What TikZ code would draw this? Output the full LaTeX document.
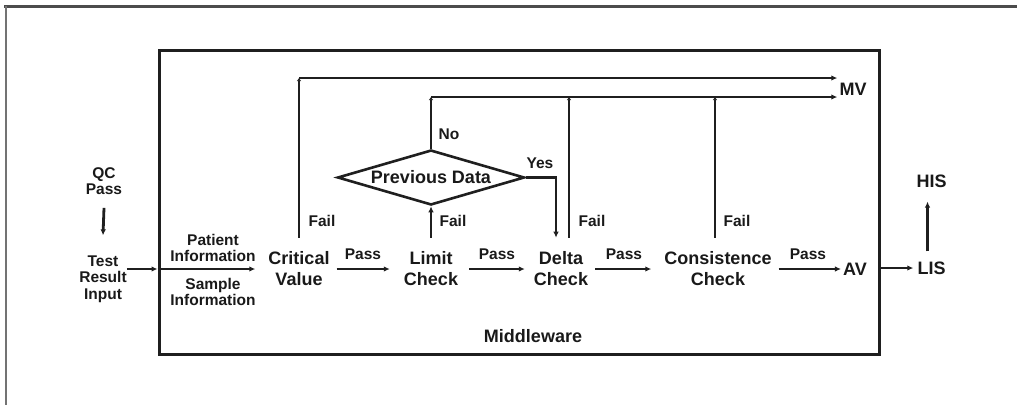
\documentclass[tikz,border=0pt]{standalone}
\usepackage{fontspec}
\setmainfont{Liberation Sans}
\usetikzlibrary{arrows.meta,shapes.geometric}
\tikzset{
  big/.style={font=\fontsize{18}{21}\selectfont\bfseries, align=center, inner xsep=7pt, inner ysep=0pt, text=black!90},
  small/.style={font=\fontsize{15.5}{16.5}\selectfont\bfseries, align=center, inner sep=0pt, text=black!90},
  ln/.style={line width=2.8pt, draw=black!88},
  arr/.style={ln, -{Latex[length=6pt,width=5.5pt]}},
  tip/.style={ln, -{Latex[length=3pt,width=4.5pt]}},
}
\begin{document}
\begin{tikzpicture}[x=1pt,y=-1pt]
\useasboundingbox (0,0) rectangle (1017,405);
% outer frame
\draw[line width=3pt, draw=black!70] (4,6.5) -- (1017,6.5);
\draw[line width=1.8pt, draw=black!55] (6,6) -- (6,405);
% middleware box
\node[draw=black!88, line width=3pt, minimum width=720pt, minimum height=304pt, inner sep=0pt] (mw) at (519,202) {};
\node[big] (mwl) at (533,336) {Middleware};
% left inputs
\node[small] (qc) at (104,181) {QC\\Pass};
\node[small] (tri) at (103,279) {Test\\Result\\Input};
\draw[arr] ([yshift=-13pt]qc.south) -- ([yshift=20pt]tri.north);
% main row
\node[big] (cv) at (299,269) {Critical\\Value};
\node[big] (lc) at (431,269) {Limit\\Check};
\node[big] (dc) at (561,269) {Delta\\Check};
\node[big] (cc) at (718,269) {Consistence\\Check};
\node[big, inner xsep=2pt] (av) at (855,269) {AV};
\node[big, inner xsep=2pt] (mv) at (853,89) {MV};
\node[big, inner sep=0pt] (lis) at (931.5,268) {LIS};
\node[big, inner sep=0pt] (his) at (931.5,181) {HIS};
% labels
\node[small] (pi) at (213,248) {Patient\\Information};
\node[small] (si) at (213,292) {Sample\\Information};
\node[small] (p1) at (363,254) {Pass};
\node[small] (p2) at (497,254) {Pass};
\node[small] (p3) at (624,254) {Pass};
\node[small] (p4) at (808,254) {Pass};
\node[small] (f1) at (322,221) {Fail};
\node[small] (f2) at (453,221) {Fail};
\node[small] (f3) at (592,221) {Fail};
\node[small] (f4) at (737,221) {Fail};
\node[small] (no) at (449,134) {No};
\node[small] (yes) at (540,163) {Yes};
% diamond
\node[draw=black!88, line width=2.6pt, diamond, aspect=3.4, minimum width=187pt, minimum height=55pt, inner sep=0pt, font=\fontsize{18}{21}\selectfont\bfseries, text=black!90] (pd) at (431,177.5) {Previous Data};
% rails
\coordinate (r1) at (299,78);
\coordinate (r2) at (431,97);
% arrows on main row
\draw[arr] (tri.east |- cv) -- (mw.west |- cv);
\draw[arr] (mw.west |- cv) -- ([xshift=-6pt]cv.west);
\draw[arr] (cv.east) -- ([xshift=-7pt]lc.west);
\draw[arr] ([xshift=4pt]lc.east) -- ([xshift=-2pt]dc.west);
\draw[arr] (dc.east) -- ([xshift=-6pt]cc.west);
\draw[arr] (cc.east) -- (av.west);
\draw[arr] (mw.east |- lis) -- ([xshift=-4pt]lis.west);
\draw[arr] ([xshift=-4pt,yshift=10pt]lis.north) -- ([xshift=-4pt,yshift=-14pt]his.south);
% fail paths
\draw[tip] ([yshift=14pt]cv.north) -- (r1);
\draw[arr] (r1) -- (r1 -| mv.west);
\draw[arr] ([yshift=14pt]lc.north) -- (pd.south);
\draw[tip] (pd.north) -- (r2);
\draw[arr] (r2) -- (r2 -| mv.west);
\draw[tip] ([xshift=8pt,yshift=14pt]dc.north) -- ([xshift=8pt]dc.north |- r2);
\draw[tip] ([xshift=-3pt,yshift=14pt]cc.north) -- ([xshift=-3pt]cc.north |- r2);
\draw[arr] (pd.east) -- ([xshift=-5pt]pd.east -| dc.north) -- ([xshift=-5pt,yshift=14pt]dc.north);
\end{tikzpicture}
\end{document}
